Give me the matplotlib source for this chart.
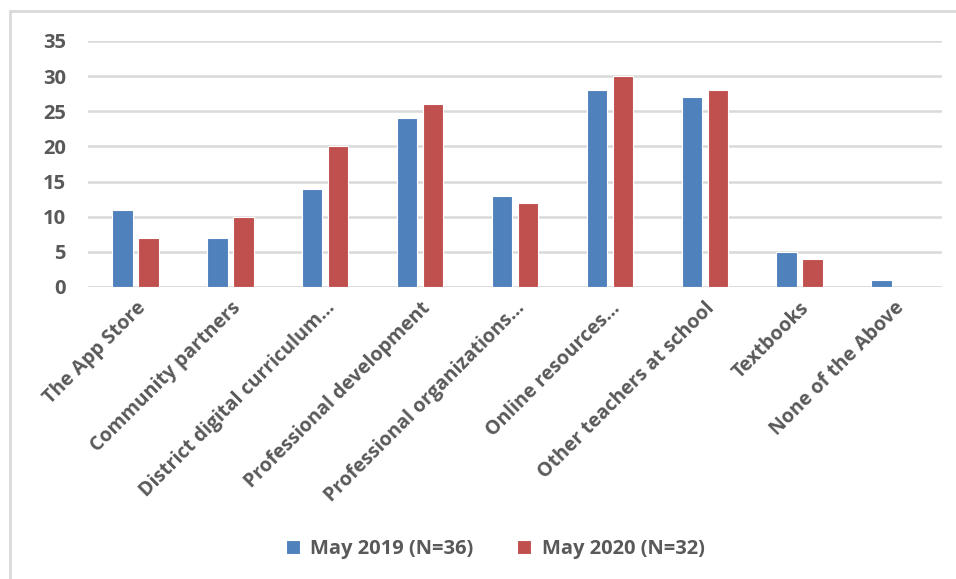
import numpy as np
import matplotlib.pyplot as plt
from matplotlib.patches import Rectangle

categories = ["The App Store", "Community partners", "District digital curriculum…",
              "Professional development", "Professional organizations…",
              "Online resources…", "Other teachers at school", "Textbooks",
              "None of the Above"]
may_2019 = [11, 7, 14, 24, 13, 28, 27, 5, 1]
may_2020 = [7, 10, 20, 26, 12, 30, 28, 4, 0]
series_labels = ["May 2019 (N=36)", "May 2020 (N=32)"]

blue = "#4F81BD"
red = "#C0504D"
text_gray = "#595959"
grid_gray = "#D9D9D9"

plt.rcParams['font.family'] = ['Open Sans', 'DejaVu Sans']
plt.rcParams['font.weight'] = 'bold'

fig = plt.figure(figsize=(9.56, 5.79), dpi=100)
ax = fig.add_axes([88 / 956, 1 - 287 / 579, (942 - 88) / 956, (287 - 41) / 579])

# chart frame (only left and top edges visible in the picture)
fig.patches.append(Rectangle((10 / 956, -0.1), 1.1, 1 - 11 / 579 + 0.1,
                             transform=fig.transFigure, fill=False,
                             edgecolor=grid_gray, linewidth=2))

x = np.arange(len(categories))
w = 0.215
off = 0.137
ax.bar(x - off, may_2019, w, color=blue, edgecolor="white", linewidth=0.8,
       label=series_labels[0], zorder=3)
ax.bar(x + off, may_2020, w, color=red, edgecolor="white", linewidth=0.8,
       label=series_labels[1], zorder=3)

ax.set_xlim(-0.5, len(categories) - 0.5)
ax.set_ylim(0, 35)
ax.set_yticks(range(0, 36, 5))
ax.yaxis.grid(True, color=grid_gray, linewidth=1.8, zorder=0)
for s in ax.spines.values():
    s.set_visible(False)
ax.axhline(0, color=grid_gray, linewidth=1.8, zorder=1)
ax.tick_params(axis='both', length=0, colors=text_gray)
ax.tick_params(axis='y', pad=16, labelsize=14.5)
ax.set_xticks(x)
ax.set_xticklabels(categories, rotation=45, ha='right', rotation_mode='anchor',
                   fontsize=14, color=text_gray)
ax.tick_params(axis='x', pad=8)

leg = fig.legend(loc='center', bbox_to_anchor=(495 / 956, 1 - 549 / 579), ncol=2,
                 frameon=False, fontsize=14.5, handlelength=0.7, handleheight=0.7,
                 columnspacing=2.2, handletextpad=0.5)
for t in leg.get_texts():
    t.set_color(text_gray)

fig.savefig("out.png", dpi=100)
